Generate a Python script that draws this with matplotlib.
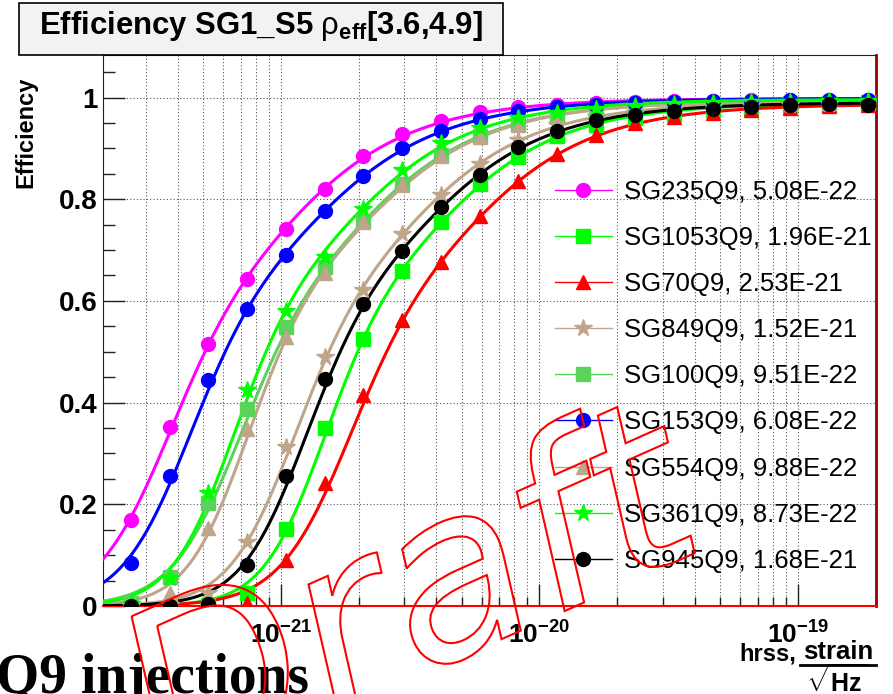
import numpy as np
import matplotlib
matplotlib.use("Agg")
import matplotlib.pyplot as plt
import matplotlib.transforms as mtransforms
from matplotlib.lines import Line2D
from matplotlib.patches import Rectangle, PathPatch
from matplotlib.textpath import TextPath
from matplotlib.font_manager import FontProperties
from matplotlib.ticker import LogLocator, FixedLocator, NullFormatter, MultipleLocator

plt.rcParams["font.family"] = ["Liberation Sans", "DejaVu Sans"]
plt.rcParams["mathtext.fontset"] = "custom"
plt.rcParams["mathtext.rm"] = "Liberation Sans"
plt.rcParams["mathtext.it"] = "Liberation Sans:italic"
plt.rcParams["mathtext.bf"] = "Liberation Sans:bold"

# DATA
hrss = [2.63e-22, 3.72e-22, 5.25e-22, 7.41e-22, 1.05e-21, 1.48e-21, 2.08e-21,
        2.94e-21, 4.16e-21, 5.87e-21, 8.30e-21, 1.17e-20, 1.66e-20, 2.34e-20,
        3.31e-20, 4.68e-20, 6.60e-20, 9.30e-20, 1.32e-19, 1.86e-19]

names = ["SG235Q9", "SG1053Q9", "SG70Q9", "SG849Q9", "SG100Q9",
         "SG153Q9", "SG554Q9", "SG361Q9", "SG945Q9"]
h50 = [5.08e-22, 1.96e-21, 2.53e-21, 1.52e-21, 9.51e-22,
       6.08e-22, 9.88e-22, 8.73e-22, 1.68e-21]

eff_sg235 = [0.170, 0.352, 0.516, 0.644, 0.741, 0.820, 0.885, 0.928, 0.953, 0.971,
             0.981, 0.986, 0.989, 0.991, 0.993, 0.994, 0.995, 0.995, 0.996, 0.996]
eff_sg1053 = [0.0, 0.0, 0.002, 0.025, 0.151, 0.351, 0.526, 0.658, 0.755, 0.829,
              0.883, 0.925, 0.945, 0.960, 0.968, 0.975, 0.980, 0.984, 0.986, 0.987]
eff_sg70 = [0.0, 0.0, 0.0, 0.006, 0.090, 0.242, 0.414, 0.562, 0.676, 0.767,
            0.836, 0.888, 0.926, 0.949, 0.962, 0.970, 0.975, 0.980, 0.983, 0.985]
eff_sg849 = [0.0, 0.001, 0.025, 0.125, 0.313, 0.490, 0.622, 0.731, 0.809, 0.870,
             0.916, 0.945, 0.961, 0.970, 0.977, 0.981, 0.984, 0.986, 0.988, 0.989]
eff_sg100 = [0.006, 0.057, 0.202, 0.387, 0.549, 0.667, 0.757, 0.830, 0.886, 0.925,
             0.948, 0.963, 0.973, 0.979, 0.983, 0.986, 0.988, 0.989, 0.990, 0.991]
eff_sg153 = [0.084, 0.256, 0.444, 0.585, 0.690, 0.777, 0.845, 0.901, 0.935, 0.958,
             0.974, 0.982, 0.986, 0.990, 0.992, 0.993, 0.994, 0.995, 0.995, 0.996]
eff_sg554 = [0.002, 0.025, 0.153, 0.348, 0.529, 0.654, 0.755, 0.828, 0.884, 0.922,
             0.946, 0.962, 0.972, 0.978, 0.983, 0.986, 0.988, 0.989, 0.990, 0.991]
eff_sg361 = [0.003, 0.055, 0.222, 0.424, 0.580, 0.686, 0.780, 0.857, 0.911, 0.941,
             0.959, 0.970, 0.978, 0.983, 0.987, 0.989, 0.991, 0.992, 0.993, 0.994]
eff_sg945 = [0.0, 0.0, 0.004, 0.081, 0.256, 0.446, 0.593, 0.699, 0.784, 0.848,
             0.902, 0.935, 0.955, 0.965, 0.973, 0.978, 0.981, 0.986, 0.988, 0.986]

effs = [eff_sg235, eff_sg1053, eff_sg70, eff_sg849, eff_sg100,
        eff_sg153, eff_sg554, eff_sg361, eff_sg945]

# STYLE
colors = ["#ff00ff", "#00ff00", "#ff0000", "#bfa58a", "#5ad35a",
          "#0000ff", "#bfa58a", "#00ff00", "#000000"]
markers = ["o", "s", "^", "*", "s", "o", "^", "*", "o"]
msizes = [10, 9.5, 10, 13, 9.5, 10, 10, 13, 10]


def fit_sigmoid(x, y, x50, top):
    """grid search of the usual efficiency sigmoid with fixed hrss50 and plateau"""
    r = np.asarray(x) / x50
    lr, th = np.log(r), np.tanh(r)
    A = np.linspace(0.5, 10, 240)[:, None, None]
    B = np.linspace(-0.95, 3, 240)[None, :, None]
    z = np.clip(-A * (1 + B * th) * lr, -50, 50)
    err = ((top / (1 + np.exp(z)) - np.asarray(y)) ** 2).sum(axis=2)
    i, j = np.unravel_index(np.argmin(err), err.shape)
    return A[i, 0, 0], B[0, j, 0]


def sigmoid(x, x50, top, a, b):
    r = x / x50
    z = np.clip(-a * (1 + b * np.tanh(r)) * np.log(r), -50, 50)
    return top / (1 + np.exp(z))


W, H = 893, 694
fig = plt.figure(figsize=(W / 100, H / 100), dpi=100)
ax = fig.add_axes([103 / W, 1 - 606 / H, 773 / W, 551 / H])
ax.set_xscale("log")
ax.set_xlim(2.052e-22, 2.006e-19)
ax.set_ylim(0, 1.0836)

xx = np.logspace(np.log10(2.06e-22), np.log10(2.0e-19), 500)
handles = []
for name, x50, y, c, m, ms in zip(names, h50, effs, colors, markers, msizes):
    top = max(y) + 0.002
    a, b = fit_sigmoid(hrss, y, x50, top)
    ax.plot(xx, sigmoid(xx, x50, top, a, b), color=c, lw=2.2, zorder=3)
    ax.plot(hrss, y, ls="none", marker=m, ms=ms, color=c, mec=c, zorder=4)
    handles.append(Line2D([], [], color=c, lw=1, marker=m, ms=ms, mec=c))

labels = [f"{n}, {v:.2E}" for n, v in zip(names, h50)]
ax.legend(handles, labels, loc="upper left", bbox_to_anchor=(555 / W, 1 - 180 / H),
          bbox_transform=fig.transFigure, frameon=False, fontsize=18.5,
          handlelength=2.2, handletextpad=0.5, labelspacing=0.86,
          borderpad=0, borderaxespad=0, numpoints=1)

# axes / ticks
ax.yaxis.set_major_locator(MultipleLocator(0.2))
ax.yaxis.set_minor_locator(MultipleLocator(0.05))
ax.set_yticks([0, 0.2, 0.4, 0.6, 0.8, 1.0])
ax.set_yticklabels(["0", "0.2", "0.4", "0.6", "0.8", "1"])
ax.xaxis.set_major_locator(FixedLocator([1e-21, 1e-20, 1e-19]))
ax.xaxis.set_minor_locator(LogLocator(base=10, subs=np.arange(2, 10), numticks=20))
ax.xaxis.set_minor_formatter(NullFormatter())
ax.set_xticklabels([r"$\mathbf{10^{-21}}$", r"$\mathbf{10^{-20}}$", r"$\mathbf{10^{-19}}$"])
ax.tick_params(axis="both", which="both", direction="in", top=False, right=False,
               width=1, color="#222222")
ax.tick_params(axis="y", which="major", length=16, labelsize=20, pad=4)
ax.tick_params(axis="y", which="minor", length=8.5)
ax.tick_params(axis="x", which="major", length=16, labelsize=19, pad=11)
ax.tick_params(axis="x", which="minor", length=6.5)
for t in ax.get_yticklabels():
    t.set_fontweight("bold")
ax.grid(axis="y", which="major", ls=(0, (1, 2)), lw=0.8, color="#555555", zorder=1)
ax.grid(axis="x", which="both", ls=(0, (1, 2)), lw=0.8, color="#555555", zorder=1)
for s in ("left", "top"):
    ax.spines[s].set_color("#222222")
ax.spines["bottom"].set_color("#ff0000")
ax.spines["bottom"].set_linewidth(1.5)
ax.spines["right"].set_color("#990000")
ax.spines["right"].set_linewidth(2)

fig.text(26 / W, 1 - 77 / H, "Efficiency", rotation=90, ha="center", va="top",
         fontsize=17, fontweight="bold")

# x axis title: hrss, strain / sqrt(Hz)
fig.text(796 / W, 1 - 661 / H, "hrss,", ha="right", va="baseline",
         fontsize=17, fontweight="bold")
fig.text(838 / W, 1 - 659 / H, "strain", ha="center", va="baseline",
         fontsize=18.5, fontweight="bold")
fig.add_artist(Line2D([800 / W, 876 / W], [1 - 665 / H, 1 - 665 / H],
                      transform=fig.transFigure, color="black", lw=2))
fig.text(836 / W, 1 - 692 / H, r"$\mathbf{\sqrt{Hz}}$", ha="center", va="baseline",
         fontsize=18)

# title box
fig.add_artist(Rectangle((19 / W, 1 - 55 / H), 484 / W, 52 / H, transform=fig.transFigure,
                         fc="#f2f2f2", ec="black", lw=1.2, zorder=5))
fig.text(261 / W, 1 - 26 / H, r"Efficiency SG1_S5 $\mathrm{\rho}_{\mathbf{eff}}$[3.6,4.9]",
         ha="center", va="center", fontsize=22.4, fontweight="bold", zorder=6)

# slide text underneath and the draft watermark
fig.text(-4 / W, 1 / H, "Q9 injections", family="Liberation Serif", fontweight="bold",
         fontsize=40, ha="left", va="baseline")
tp = TextPath((0, 0), "Draft", size=235,
              prop=FontProperties(family="DejaVu Sans", style="oblique"))
tr = mtransforms.Affine2D().rotate_deg(24).translate(165, -95)
fig.add_artist(PathPatch(tr.transform_path(tp), fc="none", ec="red", lw=1.5,
                         transform=mtransforms.IdentityTransform(), zorder=10))

fig.savefig("out.png", dpi=100)
